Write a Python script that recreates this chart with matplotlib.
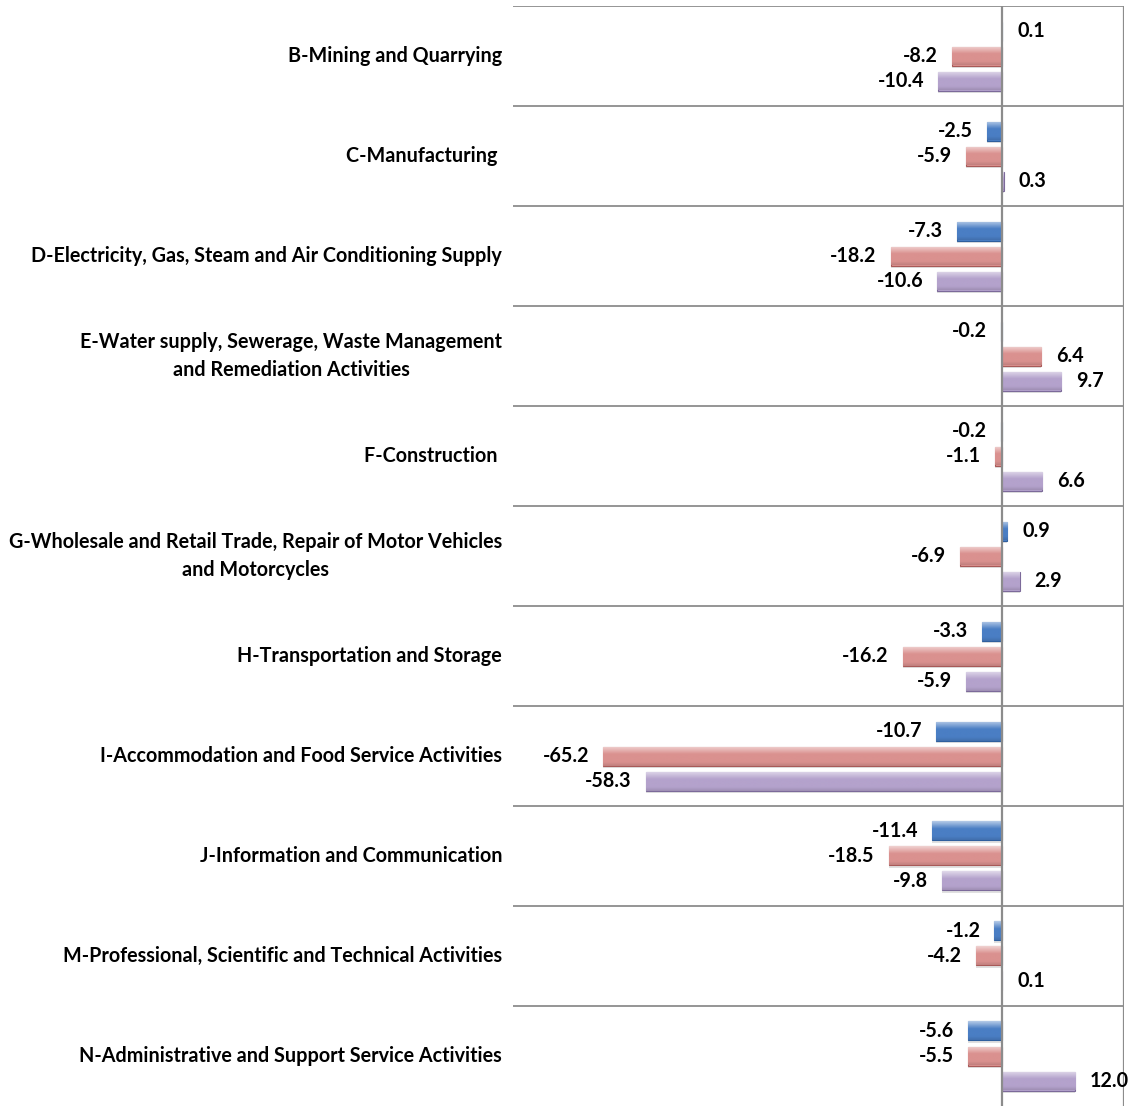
import numpy as np
import matplotlib
matplotlib.use("Agg")
import matplotlib.pyplot as plt
from matplotlib.colors import to_rgb

categories = [
    "B-Mining and Quarrying",
    "C-Manufacturing ",
    "D-Electricity, Gas, Steam and Air Conditioning Supply",
    "E-Water supply, Sewerage, Waste Management\nand Remediation Activities",
    "F-Construction ",
    "G-Wholesale and Retail Trade, Repair of Motor Vehicles\nand Motorcycles",
    "H-Transportation and Storage",
    "I-Accommodation and Food Service Activities",
    "J-Information and Communication",
    "M-Professional, Scientific and Technical Activities",
    "N-Administrative and Support Service Activities",
]
series_blue = [0.1, -2.5, -7.3, -0.2, -0.2, 0.9, -3.3, -10.7, -11.4, -1.2, -5.6]
series_red = [-8.2, -5.9, -18.2, 6.4, -1.1, -6.9, -16.2, -65.2, -18.5, -4.2, -5.5]
series_purple = [-10.4, 0.3, -10.6, 9.7, 6.6, 2.9, -5.9, -58.3, -9.8, 0.1, 12.0]

plt.rcParams['font.family'] = ['Lato', 'DejaVu Sans']

W, H = 1136, 1106
fig = plt.figure(figsize=(W / 100, H / 100), dpi=100)
ax = fig.add_axes([513 / W, 0, 611 / W, 1100 / H])
ax.set_xlim(-80, 20)
ax.set_ylim(11, 0)
ax.axis('off')

styles = [
    (series_blue, -0.25, "#4A7EC4", "#2F5F9E"),
    (series_red, 0.0, "#DA918F", "#A85A58"),
    (series_purple, 0.25, "#B4A2CC", "#7C6A9A"),
]
bh = 0.19
n = len(categories)
y = np.arange(n) + 0.5
FS_CAT = 14.2
FS_VAL = 14.2


def lighten(c, f):
    r = np.array(to_rgb(c))
    return r + (1 - r) * f


def darken(c, f):
    return np.array(to_rgb(c)) * (1 - f)


for vals, off, col, edge in styles:
    ax.barh(y + off + 0.025, vals, height=bh, left=0, color='#000000',
            alpha=0.12, linewidth=0, zorder=2)
    bars = ax.barh(y + off, vals, height=bh, color=col, edgecolor=edge,
                   linewidth=0.8, zorder=3)
    grad = np.linspace(0, 1, 128)
    top = lighten(col, 0.6)
    base = np.array(to_rgb(col))
    bot = darken(col, 0.12)
    img = np.zeros((128, 1, 3))
    for i, t in enumerate(grad):
        if t < 0.4:
            img[i, 0] = top + (base - top) * (t / 0.4)
        elif t < 0.8:
            img[i, 0] = base
        else:
            img[i, 0] = base + (bot - base) * ((t - 0.8) / 0.2)
    for b in bars:
        x0, yb, w, h = b.get_x(), b.get_y(), b.get_width(), b.get_height()
        if abs(w) < 1e-9:
            continue
        xl, xr = min(x0, x0 + w), max(x0, x0 + w)
        im = ax.imshow(img, extent=(xl, xr, yb + h, yb), aspect='auto',
                       zorder=3.5, interpolation='bilinear')
        im.set_clip_path(b)
    for yy, v in zip(y + off, vals):
        if v < 0:
            ax.annotate(f"{v:.1f}", (v, yy), xytext=(-14, 0),
                        textcoords='offset pixels', ha='right', va='center',
                        fontsize=FS_VAL, fontweight='bold', color='black')
        else:
            ax.annotate(f"{v:.1f}", (v, yy), xytext=(15, 0),
                        textcoords='offset pixels', ha='left', va='center',
                        fontsize=FS_VAL, fontweight='bold', color='black')

for k in range(n):
    ax.axhline(k, color='#8C8C8C', linewidth=1.3, zorder=1)
ax.axvline(0, color='#8C8C8C', linewidth=1.6, zorder=4)
ax.axvline(20, color='#8C8C8C', linewidth=1.6, zorder=1)

for yy, lab in zip(y, categories):
    ax.annotate(lab, (-80, yy), xytext=(-11, 0), textcoords='offset pixels',
                ha='right', va='center', multialignment='center',
                fontsize=FS_CAT, fontweight='bold', color='black',
                annotation_clip=False, linespacing=1.45)

fig.savefig("out.png", dpi=100)
